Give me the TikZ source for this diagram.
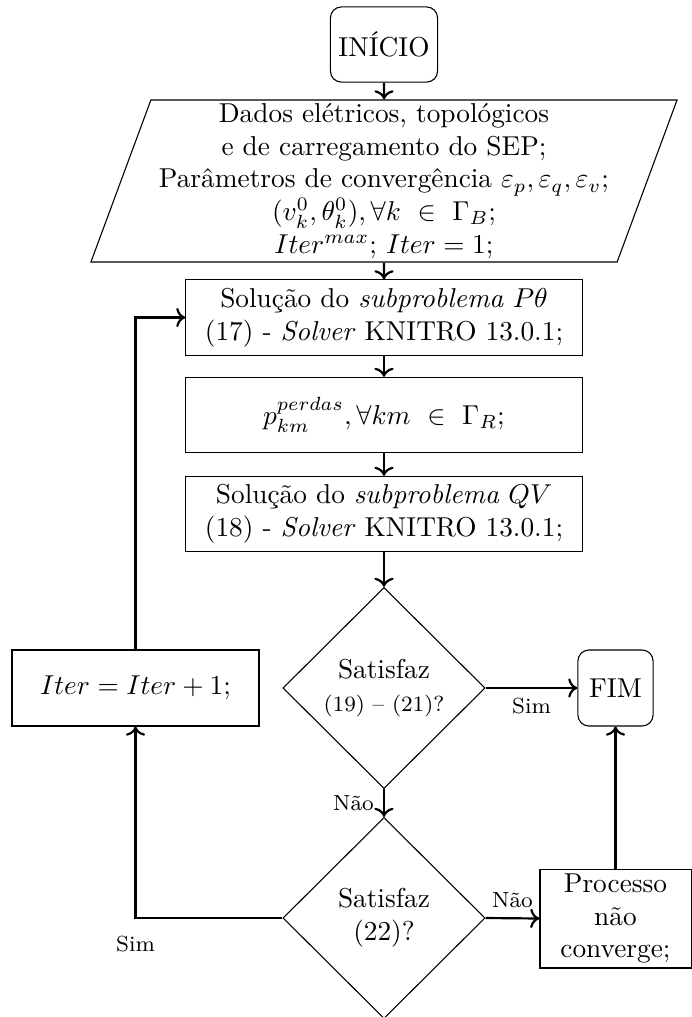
\documentclass[tikz,border=0pt]{standalone}
\usepackage{amsmath,amssymb}
\usepackage{fontspec}
\usepackage{tikz}
\usetikzlibrary{arrows.meta,calc,positioning,shapes.geometric}

\begin{document}
\begin{tikzpicture}[x=0.366pt,y=-0.366pt,
    terminal/.style={draw,rounded corners=4pt,align=center,inner sep=2pt},
    caixa/.style={draw,align=center,inner sep=2pt,minimum width=145pt,minimum height=27.5pt},
    dados/.style={draw,trapezium,trapezium left angle=70,trapezium right angle=110,trapezium stretches=true,
      align=center,inner sep=1pt,minimum width=215pt,minimum height=59.3pt},
    decisao/.style={draw,diamond,align=center,inner sep=0pt,minimum width=74pt,minimum height=73.6pt},
    seta/.style={->,thick},
    rot/.style={font=\footnotesize}]
  \useasboundingbox (0,0) rectangle (692,1017);
  \node[terminal,minimum width=39.2pt,minimum height=27.5pt] (inicio) at (384,44.5) {INÍCIO};
  \node[dados] (entrada) at (384,181) {Dados elétricos, topológicos\\ e de carregamento do SEP;\\
    Parâmetros de convergência $\varepsilon_p,\varepsilon_q,\varepsilon_v$;\\
    $(v_k^0,\theta_k^0),\forall k\ \in\ \Gamma_B$;\\ $Iter^{max}$; $Iter=1$;};
  \node[caixa] (subP) at (384,317.5) {Solução do \textit{subproblema} $P\theta$\\ (17) - \textit{Solver} KNITRO 13.0.1;};
  \node[caixa] (perdas) at (384,415) {$p_{km}^{perdas},\forall km\ \in\ \Gamma_R$;};
  \node[caixa] (subQ) at (384,514) {Solução do \textit{subproblema} $QV$\\ (18) - \textit{Solver} KNITRO 13.0.1;};
  \node[decisao] (teste1) at (384,688) {Satisfaz\\ {\footnotesize (19) -- (21)?}};
  \node[decisao] (teste2) at (384,918) {Satisfaz\\ (22)?};
  \node[draw,minimum width=90.4pt,minimum height=27.8pt] (iter) at (135.5,688) {$Iter=Iter+1$;};
  \node[terminal,minimum width=27.5pt,minimum height=27.8pt] (fim) at (615.5,688) {FIM};
  \node[draw,align=center,inner sep=1pt,minimum width=55.3pt,minimum height=36.2pt] (naoconv) at (615.5,918.5) {Processo\\ não\\ converge;};

  \draw[seta] (inicio) -- (entrada);
  \draw[seta] (entrada) -- (subP);
  \draw[seta] (subP) -- (perdas);
  \draw[seta] (perdas) -- (subQ);
  \draw[seta] (subQ) -- (teste1);
  \draw[seta] (teste1.east) -- node[rot,below] {Sim} (fim.west);
  \draw[seta] (teste1.south) -- node[rot,left] {Não} (teste2.north);
  \draw[seta] (teste2.east) -- node[rot,above] {Não} (naoconv.west);
  \draw[seta] (naoconv) -- (fim);
  \draw[seta] (teste2.west) -| node[rot,below=3pt] {Sim} (iter.south);
  \draw[seta] (iter.north) |- (subP.west);
\end{tikzpicture}
\end{document}
